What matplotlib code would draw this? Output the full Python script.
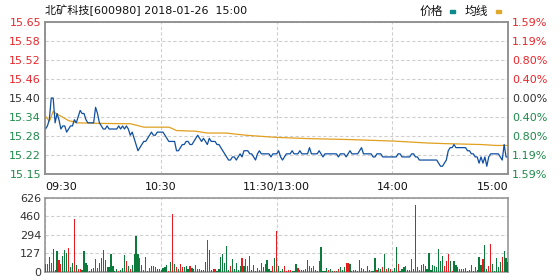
import numpy as np
import matplotlib
matplotlib.use('Agg')
import matplotlib.pyplot as plt
from matplotlib.patches import Rectangle

plt.rcParams['font.family'] = ['DejaVu Sans', 'Noto Sans CJK SC']

title = '北矿科技[600980] 2018-01-26  15:00'
prev_close = 15.40
price_step = 0.06125  # one grid row
price_labels = ['15.65', '15.58', '15.52', '15.46', '15.40', '15.34', '15.28', '15.22', '15.15']
pct_labels = ['1.59%', '1.19%', '0.80%', '0.40%', '0.00%', '0.40%', '0.80%', '1.19%', '1.59%']
time_ticks = [0, 60, 120, 180, 240]
time_labels = ['09:30', '10:30', '11:30/13:00', '14:00', '15:00']

# minute prices, 09:30 .. 15:00 (241 points)
price = [
    15.30, 15.31, 15.33, 15.40, 15.40, 15.32, 15.35, 15.33, 15.30, 15.31,
    15.31, 15.29, 15.30, 15.31, 15.31, 15.33, 15.32, 15.34, 15.36, 15.35,
    15.35, 15.33, 15.32, 15.32, 15.32, 15.32, 15.37, 15.35, 15.32, 15.31,
    15.30, 15.30, 15.31, 15.30, 15.30, 15.30, 15.30, 15.30, 15.31, 15.30,
    15.31, 15.30, 15.31, 15.30, 15.28, 15.29, 15.27, 15.25, 15.23, 15.24,
    15.25, 15.26, 15.26, 15.27, 15.28, 15.29, 15.28, 15.28, 15.29, 15.29,
    15.29, 15.29, 15.28, 15.27, 15.26, 15.26, 15.26, 15.26, 15.23, 15.23,
    15.24, 15.25, 15.25, 15.26, 15.26, 15.25, 15.25, 15.26, 15.27, 15.28,
    15.27, 15.26, 15.27, 15.26, 15.25, 15.27, 15.26, 15.26, 15.26, 15.25,
    15.25, 15.24, 15.23, 15.22, 15.21, 15.20, 15.20, 15.21, 15.21, 15.20,
    15.21, 15.22, 15.21, 15.23, 15.23, 15.23, 15.22, 15.22, 15.21, 15.20,
    15.22, 15.23, 15.22, 15.22, 15.22, 15.22, 15.22, 15.21, 15.22, 15.22,
    15.22, 15.23, 15.21, 15.20, 15.21, 15.22, 15.22, 15.22, 15.23, 15.22,
    15.22, 15.22, 15.23, 15.22, 15.22, 15.22, 15.22, 15.24, 15.22, 15.22,
    15.22, 15.22, 15.23, 15.22, 15.21, 15.22, 15.22, 15.22, 15.22, 15.22,
    15.22, 15.22, 15.21, 15.22, 15.22, 15.22, 15.21, 15.22, 15.23, 15.22,
    15.22, 15.22, 15.22, 15.23, 15.24, 15.22, 15.22, 15.22, 15.22, 15.22,
    15.21, 15.21, 15.22, 15.22, 15.22, 15.21, 15.21, 15.21, 15.21, 15.21,
    15.21, 15.21, 15.21, 15.22, 15.22, 15.21, 15.21, 15.21, 15.21, 15.21,
    15.22, 15.22, 15.21, 15.21, 15.20, 15.20, 15.20, 15.20, 15.20, 15.20,
    15.20, 15.20, 15.20, 15.20, 15.19, 15.18, 15.18, 15.19, 15.20, 15.23,
    15.24, 15.24, 15.25, 15.24, 15.24, 15.24, 15.24, 15.24, 15.24, 15.23,
    15.23, 15.22, 15.22, 15.21, 15.21, 15.19, 15.21, 15.19, 15.21, 15.18,
    15.21, 15.22, 15.22, 15.22, 15.22, 15.22, 15.21, 15.20, 15.25, 15.21,
    15.21,
]

# average price line
avg_minutes = [0, 2, 4, 6, 9, 12, 15, 16, 30, 44, 48, 51, 64, 66, 68, 78, 84, 94, 98,
               104, 113, 120, 137, 158, 181, 198, 207, 226, 234, 240]
avg_price = [15.341, 15.325, 15.357, 15.348, 15.338, 15.327, 15.323, 15.320, 15.318,
             15.317, 15.311, 15.306, 15.306, 15.301, 15.295, 15.293, 15.287, 15.287,
             15.284, 15.280, 15.276, 15.273, 15.269, 15.266, 15.261, 15.255, 15.253,
             15.250, 15.247, 15.247]

# minute volume, bar height on the panel scale
vol = [
    75, 75, 138, 84, 201, 21, 183, 111, 75, 147,
    192, 174, 210, 48, 84, 471, 66, 30, 30, 18,
    183, 84, 66, 9, 30, 39, 120, 39, 84, 129,
    192, 111, 48, 48, 165, 57, 12, 30, 12, 21,
    39, 156, 102, 57, 30, 66, 165, 318, 165, 129,
    66, 21, 138, 9, 39, 57, 57, 48, 30, 30,
    21, 39, 48, 66, 12, 93, 516, 75, 48, 30,
    75, 48, 48, 57, 30, 57, 39, 30, 66, 30,
    30, 21, 21, 93, 282, 192, 21, 30, 30, 12,
    30, 138, 165, 84, 228, 21, 57, 120, 30, 84,
    21, 57, 129, 57, 120, 57, 147, 21, 66, 12,
    39, 21, 84, 48, 75, 111, 30, 12, 57, 129,
    363, 57, 9, 30, 57, 12, 21, 21, 12, 9,
    75, 39, 21, 21, 21, 30, 111, 57, 39, 57,
    21, 9, 102, 219, 9, 9, 39, 21, 30, 12,
    12, 12, 30, 48, 21, 48, 84, 84, 75, 9,
    21, 21, 9, 111, 39, 30, 12, 57, 21, 9,
    12, 129, 21, 39, 30, 48, 165, 30, 39, 30,
    9, 39, 219, 75, 12, 30, 48, 57, 21, 21,
    120, 30, 597, 48, 21, 66, 75, 57, 30, 174,
    21, 66, 57, 48, 201, 102, 147, 57, 102, 165,
    102, 12, 102, 66, 48, 30, 30, 30, 39, 9,
    21, 66, 9, 48, 21, 138, 66, 120, 237, 30,
    57, 246, 75, 12, 129, 48, 93, 138, 183, 129,
    93,
]
# 1 = red (up), 0 = green (down)
vol_up = [
    0, 1, 0, 1, 0, 0, 0, 1, 1, 0,
    0, 0, 1, 0, 0, 1, 0, 1, 1, 0,
    0, 0, 0, 0, 0, 0, 1, 1, 0, 0,
    0, 0, 0, 0, 0, 0, 0, 0, 1, 0,
    0, 0, 1, 0, 1, 0, 0, 0, 0, 1,
    0, 1, 1, 0, 1, 0, 0, 0, 0, 0,
    0, 0, 0, 0, 1, 0, 1, 0, 1, 0,
    1, 1, 0, 0, 0, 1, 0, 0, 1, 0,
    0, 0, 0, 0, 1, 0, 0, 0, 1, 0,
    0, 0, 0, 0, 0, 0, 1, 0, 0, 0,
    0, 0, 1, 0, 1, 0, 0, 0, 0, 0,
    1, 1, 0, 0, 0, 0, 0, 0, 1, 0,
    1, 0, 0, 0, 1, 1, 1, 1, 0, 0,
    0, 1, 0, 0, 0, 0, 0, 1, 0, 1,
    0, 0, 1, 0, 0, 0, 0, 1, 0, 0,
    1, 0, 1, 0, 0, 0, 1, 1, 0, 0,
    1, 0, 0, 0, 1, 0, 1, 0, 0, 0,
    0, 0, 1, 0, 0, 1, 0, 1, 0, 1,
    0, 0, 0, 1, 0, 0, 0, 1, 0, 0,
    1, 0, 0, 0, 1, 0, 0, 0, 0, 0,
    0, 0, 0, 0, 0, 0, 0, 1, 1, 1,
    0, 1, 0, 0, 0, 1, 1, 1, 0, 0,
    0, 0, 0, 0, 0, 0, 0, 1, 0, 0,
    1, 1, 0, 0, 0, 0, 0, 1, 0, 0,
    0,
]
vol_top = 665
vol_labels = ['0', '127', '294', '460', '626']

RED = '#e8191f'
GREEN = '#0b7a3b'
LBL_RED = '#e8262b'
LBL_GREEN = '#1e8a4a'
GRID = '#cfcfcf'
FRAME = '#909090'

W, H = 560, 280
fig = plt.figure(figsize=(W / 100, H / 100), dpi=100)
ax = fig.add_axes([44.5 / W, 1 - 174 / H, 463.5 / W, 152 / H])
axv = fig.add_axes([44.5 / W, 8 / H, 463.5 / W, 74.5 / H])

minutes = np.arange(len(price))
levels = prev_close + price_step * np.arange(4, -5, -1)

ax.plot(minutes, price, color='#0f4fa3', lw=0.9, zorder=3)
ax.plot(avg_minutes, avg_price, color='#e0a020', lw=0.9, zorder=2)
ax.set_xlim(-0.5, 240)
ax.set_ylim(levels[-1], levels[0])

lab_colors = [LBL_RED] * 4 + ['#333333'] + [LBL_GREEN] * 4
ax.set_yticks(levels)
ax.set_yticklabels(price_labels)
for t, c in zip(ax.get_yticklabels(), lab_colors):
    t.set_color(c)
ax.tick_params(axis='y', length=0, pad=2.5, labelsize=8)

ax2 = ax.twinx()
ax2.set_ylim(levels[-1], levels[0])
ax2.set_yticks(levels)
ax2.set_yticklabels(pct_labels)
for t, c in zip(ax2.get_yticklabels(), lab_colors):
    t.set_color(c)
ax2.tick_params(axis='y', length=0, pad=3, labelsize=8)

ax.set_xticks(time_ticks)
ax.set_xticklabels(time_labels)
ax.tick_params(axis='x', length=0, pad=6, labelsize=8, labelcolor='#111111')
xl = ax.get_xticklabels()
xl[0].set_horizontalalignment('left')
xl[-1].set_horizontalalignment('right')

for a in (ax, axv):
    a.grid(True, color=GRID, linestyle=(0, (3, 2)), lw=0.8)
    a.set_axisbelow(True)
for a in (ax, ax2, axv):
    for s in a.spines.values():
        s.set_color(FRAME)
        s.set_linewidth(1.1)

colors = [RED if u else GREEN for u in vol_up]
axv.bar(minutes, vol, width=0.62, color=colors, linewidth=0, antialiased=False, zorder=3)
axv.set_xlim(-0.5, 240)
axv.set_ylim(0, vol_top)
axv.set_yticks(np.linspace(0, vol_top, 5))
axv.set_yticklabels(vol_labels)
axv.set_xticks(time_ticks)
axv.tick_params(axis='x', length=0, labelbottom=False)
axv.tick_params(axis='y', length=0, pad=2.5, labelsize=8, labelcolor='#333333')

fig.text(45 / W, 1 - 10 / H, title, fontsize=8, ha='left', va='center', color='#111111')
fig.text(420 / W, 1 - 11 / H, '价格', fontsize=8.5, ha='left', va='center', color='#111111')
fig.patches.append(Rectangle((450 / W, 1 - 13 / H), 5 / W, 3 / H,
                             transform=fig.transFigure, color='#0a8a8a'))
fig.text(465 / W, 1 - 11 / H, '均线', fontsize=8.5, ha='left', va='center', color='#111111')
fig.patches.append(Rectangle((496 / W, 1 - 13 / H), 5 / W, 3 / H,
                             transform=fig.transFigure, color='#e0a82a'))

fig.savefig('out.png', dpi=100, facecolor='white')
